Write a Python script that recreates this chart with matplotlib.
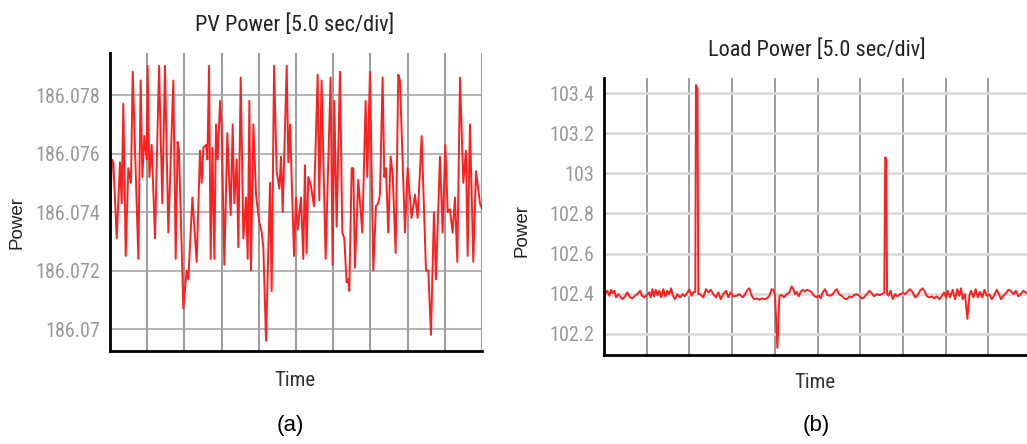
import numpy as np
import matplotlib
matplotlib.use("Agg")
import matplotlib.pyplot as plt

# PV power trace, time in s, power (5 s per division)
pv_t = [0.0, 0.22, 0.45, 0.90, 1.34, 1.57, 1.79, 2.11, 2.46, 2.82, 3.05, 3.81, 4.12, 4.35,
        4.61, 4.93, 5.06, 5.29, 5.60, 6.05, 6.59, 7.03, 7.39, 7.84, 8.51, 8.83, 9.09, 9.27,
        9.86, 10.30, 10.53, 11.07, 11.65, 12.10, 12.32, 12.55, 12.91, 13.09, 13.31, 13.53,
        13.76, 14.03, 14.25, 14.47, 14.79, 15.01, 15.37, 15.77, 16.22, 16.49, 16.71, 17.03,
        17.25, 17.57, 17.92, 18.28, 18.51, 18.73, 18.95, 19.27, 19.63, 20.03, 20.39, 20.61,
        20.97, 21.51, 21.73, 22.05, 22.40, 22.76, 22.99, 23.21, 23.75, 23.97, 24.20, 24.73,
        25.00, 25.22, 25.67, 25.98, 26.20, 26.43, 26.65, 27.01, 27.41, 27.91, 28.13, 28.44,
        28.98, 29.65, 29.92, 30.15, 30.46, 30.91, 31.22, 31.49, 31.80, 32.03, 32.16, 32.48,
        32.70, 32.92, 33.37, 33.91, 34.36, 34.58, 34.94, 35.39, 35.75, 36.06, 36.28, 36.64,
        36.87, 37.09, 37.40, 37.72, 37.99, 38.39, 38.75, 38.97, 39.65, 40.00, 40.54, 40.99,
        41.35, 41.89, 42.47, 42.78, 43.14, 43.54, 43.81, 44.35, 44.71, 45.07, 45.39, 45.69,
        46.05, 46.37, 46.68, 47.04, 47.49, 47.84, 48.07, 48.38, 48.83, 49.19, 49.73, 50.0]
pv_p = [186.0728, 186.0758, 186.0757, 186.0731, 186.0757, 186.0743, 186.0777, 186.0725,
        186.0755, 186.0750, 186.0788, 186.0724, 186.0785, 186.0752, 186.0766, 186.0758,
        186.0790, 186.0752, 186.0763, 186.0731, 186.0790, 186.0743, 186.0790, 186.0733,
        186.0785, 186.0724, 186.0764, 186.0761, 186.0707, 186.0720, 186.0717, 186.0745,
        186.0723, 186.0761, 186.0750, 186.0762, 186.0763, 186.0758, 186.0790, 186.0724,
        186.0762, 186.0724, 186.0770, 186.0758, 186.0778, 186.0769, 186.0722, 186.0767,
        186.0739, 186.0770, 186.0743, 186.0758, 186.0728, 186.0786, 186.0731, 186.0745,
        186.0724, 186.0778, 186.0720, 186.0770, 186.0746, 186.0737, 186.0733, 186.0728,
        186.0696, 186.0750, 186.0713, 186.0790, 186.0754, 186.0748, 186.0759, 186.0740,
        186.0790, 186.0757, 186.0770, 186.0725, 186.0745, 186.0734, 186.0745, 186.0724,
        186.0756, 186.0726, 186.0752, 186.0749, 186.0742, 186.0787, 186.0744, 186.0785,
        186.0724, 186.0786, 186.0722, 186.0778, 186.0735, 186.0788, 186.0733, 186.0731,
        186.0716, 186.0717, 186.0713, 186.0755, 186.0755, 186.0721, 186.0751, 186.0733,
        186.0778, 186.0752, 186.0788, 186.0720, 186.0742, 186.0743, 186.0746, 186.0786,
        186.0752, 186.0755, 186.0733, 186.0759, 186.0753, 186.0726, 186.0787, 186.0785,
        186.0733, 186.0755, 186.0738, 186.0746, 186.0738, 186.0766, 186.0720, 186.0720,
        186.0698, 186.0740, 186.0717, 186.0759, 186.0733, 186.0763, 186.0740, 186.0741,
        186.0733, 186.0745, 186.0723, 186.0786, 186.0750, 186.0761, 186.0725, 186.0770,
        186.0723, 186.0754, 186.0743, 186.0741]

# load power trace
ld_t = [0.12, 0.39, 0.62, 0.82, 1.01, 1.21, 1.41, 1.68, 1.87, 2.15, 2.46, 2.73, 3.04, 3.32,
        3.63, 3.90, 4.22, 4.45, 4.72, 5.00, 5.27, 5.46, 5.66, 5.85, 6.05, 6.28, 6.48, 6.71,
        6.95, 7.18, 7.42, 7.65, 7.85, 8.04, 8.31, 8.59, 8.90, 9.21, 9.48, 9.76, 9.99, 10.26,
        10.46, 10.69, 10.77, 10.95, 11.04, 11.24, 11.63, 11.94, 12.22, 12.49, 12.80, 13.11,
        13.39, 13.66, 13.97, 14.29, 14.56, 14.83, 15.14, 15.53, 15.85, 16.24, 16.52, 16.79,
        17.02, 17.30, 17.57, 17.88, 18.19, 18.47, 18.74, 19.05, 19.33, 19.64, 19.83, 20.03,
        20.30, 20.54, 20.81, 21.08, 21.39, 21.71, 21.98, 22.17, 22.37, 22.56, 22.80, 23.03,
        23.27, 23.54, 23.74, 24.05, 24.32, 24.59, 24.91, 25.14, 25.38, 25.61, 25.88, 26.16,
        26.47, 26.78, 27.05, 27.25, 27.52, 27.83, 28.11, 28.42, 28.73, 29.00, 29.28, 29.59,
        29.90, 30.18, 30.45, 30.76, 31.07, 31.35, 31.62, 31.93, 32.25, 32.52, 32.82, 32.93,
        33.05, 33.15, 33.30, 33.57, 33.80, 34.08, 34.35, 34.66, 34.97, 35.25, 35.52, 35.83,
        36.15, 36.42, 36.69, 37.00, 37.28, 37.51, 37.78, 38.06, 38.37, 38.64, 38.96, 39.27,
        39.54, 39.81, 40.05, 40.24, 40.52, 40.83, 41.10, 41.37, 41.61, 41.80, 42.00, 42.27,
        42.55, 42.78, 42.98, 43.25, 43.52, 43.76, 44.03, 44.30, 44.54, 44.81, 45.12, 45.40,
        45.67, 45.98, 46.25, 46.49, 46.76, 47.07, 47.35, 47.62, 47.93, 48.24, 48.52, 48.79,
        49.10, 49.37, 49.53]
ld_p = [102.398, 102.415, 102.390, 102.420, 102.403, 102.415, 102.382, 102.398, 102.387,
        102.373, 102.387, 102.407, 102.382, 102.377, 102.390, 102.398, 102.415, 102.390,
        102.382, 102.393, 102.407, 102.382, 102.423, 102.387, 102.420, 102.393, 102.415,
        102.382, 102.423, 102.387, 102.415, 102.398, 102.427, 102.393, 102.373, 102.398,
        102.382, 102.398, 102.387, 102.407, 102.420, 102.390, 102.407, 102.410, 103.440,
        103.420, 102.400, 102.398, 102.382, 102.423, 102.407, 102.420, 102.398, 102.382,
        102.407, 102.373, 102.398, 102.415, 102.382, 102.407, 102.387, 102.390, 102.398,
        102.382, 102.398, 102.420, 102.427, 102.390, 102.373, 102.377, 102.370, 102.377,
        102.373, 102.377, 102.387, 102.423, 102.420, 102.393, 102.130, 102.390, 102.393,
        102.382, 102.398, 102.407, 102.437, 102.423, 102.398, 102.410, 102.387, 102.410,
        102.420, 102.410, 102.420, 102.415, 102.407, 102.390, 102.382, 102.393, 102.377,
        102.407, 102.423, 102.393, 102.390, 102.398, 102.415, 102.423, 102.398, 102.390,
        102.377, 102.373, 102.387, 102.382, 102.393, 102.398, 102.390, 102.377, 102.382,
        102.398, 102.415, 102.403, 102.387, 102.398, 102.393, 102.398, 102.405, 103.080,
        103.070, 102.400, 102.390, 102.415, 102.373, 102.398, 102.387, 102.398, 102.403,
        102.398, 102.410, 102.423, 102.407, 102.382, 102.390, 102.415, 102.427, 102.415,
        102.390, 102.382, 102.387, 102.377, 102.387, 102.373, 102.387, 102.407, 102.382,
        102.415, 102.382, 102.420, 102.373, 102.423, 102.390, 102.427, 102.373, 102.398,
        102.275, 102.390, 102.415, 102.382, 102.423, 102.382, 102.410, 102.382, 102.420,
        102.390, 102.398, 102.373, 102.390, 102.420, 102.398, 102.373, 102.390, 102.403,
        102.420, 102.415, 102.398, 102.415, 102.387, 102.398, 102.415, 102.407, 102.403]

pv_ticks = [186.07, 186.072, 186.074, 186.076, 186.078]
pv_labels = ["186.07", "186.072", "186.074", "186.076", "186.078"]
ld_ticks = [102.2, 102.4, 102.6, 102.8, 103.0, 103.2, 103.4]
ld_labels = ["102.2", "102.4", "102.6", "102.8", "103", "103.2", "103.4"]

NARROW = ["Liberation Sans Narrow", "Roboto Condensed", "DejaVu Sans"]
W, H = 1027, 444

fig = plt.figure(figsize=(W / 100, H / 100), dpi=100)
fig.patch.set_facecolor("white")


def panel(rect, t, p, ticks, labels, ylim, hcol, hlw):
    ax = fig.add_axes(rect)
    ax.plot(t, p, color="#ff1f1f", lw=1.4, solid_joinstyle="round")
    ax.set_xlim(0, 50)
    ax.set_ylim(*ylim)
    ax.set_xticks(np.arange(0, 51, 5))
    ax.set_yticks(ticks)
    ax.set_yticklabels(labels)
    ax.set_xticklabels([])
    ax.tick_params(length=0, pad=7, labelsize=14.5, labelcolor="#9a9a9a")
    for lab in ax.get_yticklabels():
        lab.set_family(NARROW)
        lab.set_stretch("condensed")
    ax.grid(axis="x", color="#8a8a8a", lw=1.2)
    ax.grid(axis="y", color=hcol, lw=hlw)
    ax.set_axisbelow(True)
    for s in ("top", "right"):
        ax.spines[s].set_visible(False)
    for s in ("left", "bottom"):
        ax.spines[s].set_color("black")
        ax.spines[s].set_linewidth(2)
    return ax


panel([110 / W, 93 / H, 372 / W, 298 / H], pv_t, pv_p, pv_ticks, pv_labels,
      (186.06925, 186.07944), "#a8a8a8", 1.2)
panel([604 / W, 89 / H, 427 / W, 277 / H], ld_t, ld_p, ld_ticks, ld_labels,
      (102.095, 103.475), "#dcdcdc", 2.0)

txt = dict(family=NARROW, stretch="condensed", ha="center", va="center")
fig.text(295 / W, 1 - 25 / H, "PV Power [5.0 sec/div]", fontsize=16, color="#222222", **txt)
fig.text(817 / W, 1 - 50 / H, "Load Power [5.0 sec/div]", fontsize=16, color="#222222", **txt)
fig.text(295 / W, 1 - 380 / H, "Time", fontsize=15, color="#333333", **txt)
fig.text(815 / W, 1 - 383 / H, "Time", fontsize=15, color="#333333", **txt)

lab = dict(family="Liberation Sans", rotation=90, ha="center", va="center",
           fontsize=13.5, color="#222222")
fig.text(17 / W, 1 - 222 / H, "Power", **lab)
fig.text(522 / W, 1 - 230 / H, "Power", **lab)

cap = dict(family="Liberation Sans", ha="center", va="center", fontsize=16, color="black")
fig.text(290 / W, 1 - 425 / H, "(a)", **cap)
fig.text(816 / W, 1 - 425 / H, "(b)", **cap)

fig.savefig("out.png", dpi=100)
